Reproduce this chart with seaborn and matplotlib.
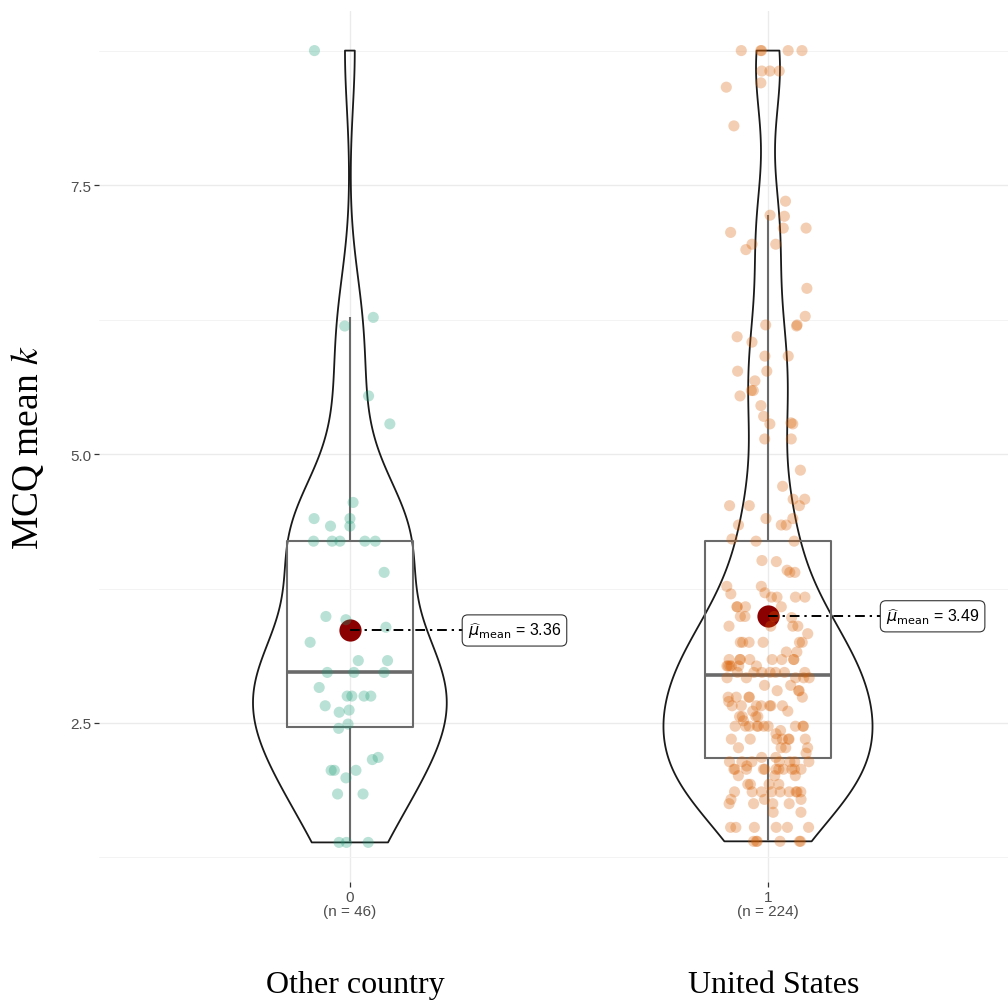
import numpy as np
import pandas as pd
import seaborn as sns
import matplotlib.pyplot as plt
from matplotlib.transforms import blended_transform_factory

# MCQ mean k: each value with the number of points sharing it
other_values = [8.75, 6.27, 6.19, 5.54, 5.28, 4.55, 4.40, 4.33, 4.19, 3.90,
                3.49, 3.46, 3.39, 3.25, 3.08, 2.97, 2.83, 2.75, 2.66, 2.62,
                2.60, 2.49, 2.45, 2.18, 2.16, 2.06, 1.99, 1.84, 1.39]
other_counts = [1, 1, 1, 1, 1, 1, 2, 2, 5, 1,
                1, 1, 1, 1, 2, 3, 1, 4, 1, 1,
                1, 1, 1, 1, 1, 3, 1, 2, 3]

us_values = [8.75, 8.56, 8.45, 8.41, 8.05, 7.35, 7.22, 7.21, 7.10, 7.06,
             6.95, 6.90, 6.54, 6.28, 6.20, 6.19, 6.09, 6.04, 5.91, 5.77,
             5.68, 5.59, 5.54, 5.45, 5.35, 5.29, 5.28, 5.14, 4.85, 4.70,
             4.58, 4.52, 4.40, 4.34, 4.21, 4.19, 4.01, 4.00, 3.92, 3.90,
             3.77, 3.71, 3.70, 3.67, 3.58, 3.49, 3.48, 3.40, 3.33, 3.25,
             3.16, 3.09, 3.03, 2.97, 2.92, 2.85, 2.80, 2.74, 2.70, 2.66,
             2.61, 2.56, 2.52, 2.47, 2.43, 2.40, 2.35, 2.27, 2.22, 2.18,
             2.14, 2.10, 2.07, 2.01, 1.93, 1.86, 1.79, 1.75, 1.67, 1.53,
             1.40]
us_counts = [5, 3, 1, 1, 1, 1, 1, 1, 2, 1,
             2, 1, 1, 1, 2, 1, 1, 1, 2, 2,
             1, 2, 1, 1, 1, 1, 2, 2, 1, 1,
             2, 3, 2, 3, 1, 2, 1, 1, 1, 2,
             2, 1, 1, 4, 4, 3, 1, 4, 1, 6,
             2, 8, 6, 7, 5, 2, 3, 5, 1, 7,
             2, 4, 1, 10, 1, 1, 7, 4, 1, 2,
             7, 1, 11, 3, 4, 9, 3, 4, 2, 6,
             6]

group_codes = ["0", "1"]
group_names = ["Other country", "United States"]

point_colors = ["#1B9E77", "#D95F02"]
mean_color = "#8B0000"

df = pd.DataFrame({
    "group": ["0"] * sum(other_counts) + ["1"] * sum(us_counts),
    "k": np.concatenate([np.repeat(other_values, other_counts),
                         np.repeat(us_values, us_counts)]),
})


def nrd0(kde):
    # R's default bandwidth (bw.nrd0), as a factor of the sample sd
    x = kde.dataset[0]
    sd = x.std(ddof=1)
    q75, q25 = np.percentile(x, [75, 25])
    bw = 0.9 * min(sd, (q75 - q25) / 1.34) * len(x) ** -0.2
    return bw / sd


sns.set_theme(style="white")
plt.rcParams["font.family"] = ["Liberation Sans", "DejaVu Sans"]

fig = plt.figure(figsize=(10.08, 10.04), dpi=100)
ax = fig.add_axes([99 / 1008, 121 / 1004, 909 / 1008, 871 / 1004])

np.random.seed(7)
sns.stripplot(data=df, x="group", y="k", hue="group", order=group_codes,
              hue_order=group_codes, palette=point_colors, jitter=0.1,
              size=8, alpha=0.3, linewidth=0, legend=False, ax=ax)

sns.boxplot(data=df, x="group", y="k", order=group_codes, width=0.3,
            fill=False, color="#6A6A6A", linewidth=1.5, showcaps=False,
            showfliers=False, whis=1.5, medianprops={"linewidth": 2.6}, ax=ax)

sns.violinplot(data=df, x="group", y="k", order=group_codes, width=0.5,
               fill=False, color="#1A1A1A", linewidth=1.3, inner=None, cut=0,
               bw_method=nrd0, gridsize=512, density_norm="area", ax=ax)

sns.pointplot(data=df, x="group", y="k", order=group_codes, estimator="mean",
              errorbar=None, linestyle="none", color=mean_color, markers="o",
              markersize=16, markeredgewidth=0, ax=ax)

means = df.groupby("group")["k"].mean().reindex(group_codes)
for i, m in enumerate(means):
    ax.plot([i, i + 0.27], [m, m], color="black", lw=1.4,
            ls=(0, (5, 2.5, 1.2, 2.5)), zorder=6)
    ax.text(i + 0.282, m, rf"$\widehat{{\mu}}_{{\mathrm{{mean}}}}$ = {m:.2f}",
            ha="left", va="center", fontsize=11.5, color="black",
            math_fontfamily="dejavusans", zorder=7,
            bbox=dict(boxstyle="round,pad=0.35", fc="white", ec="#333333", lw=0.8))

# axis ranges with ggplot's 5% padding
lo, hi = df["k"].min(), df["k"].max()
pad = 0.05 * (hi - lo)
ax.set_ylim(lo - pad, hi + pad)
ax.set_xlim(-0.6, 1.574)

ax.set_yticks([2.5, 5.0, 7.5])
ax.set_yticklabels(["2.5", "5.0", "7.5"])
ax.set_yticks([1.25, 3.75, 6.25, 8.75], minor=True)
n_per_group = df["group"].value_counts().reindex(group_codes)
ax.set_xticks(range(len(group_codes)))
ax.set_xticklabels([f"{c}\n(n = {n})" for c, n in zip(group_codes, n_per_group)],
                   linespacing=1.05)

ax.tick_params(axis="both", which="major", length=3.5, width=0.9,
               color="#333333", labelcolor="#4D4D4D", labelsize=11, pad=2,
               left=True, bottom=True)
ax.tick_params(which="minor", length=0)
ax.grid(True, which="major", color="#EBEBEB", lw=1.0)
ax.grid(True, which="minor", axis="y", color="#F3F3F3", lw=0.7)
ax.set_axisbelow(True)
for s in ax.spines.values():
    s.set_visible(False)
ax.set_xlabel("")
ax.set_ylabel("")

fig.text(28 / 1008, 1 - 448 / 1004, "MCQ mean $k$", rotation=90,
         ha="center", va="center", fontsize=27, fontfamily="Liberation Serif",
         math_fontfamily="stix", color="black")

trans = blended_transform_factory(ax.transData, fig.transFigure)
for i, name in enumerate(group_names):
    ax.text(i + 0.013, 11 / 1004, name, transform=trans, ha="center",
            va="baseline", fontsize=23, fontfamily="Liberation Serif",
            color="black")

fig.savefig("out.png", dpi=100)
